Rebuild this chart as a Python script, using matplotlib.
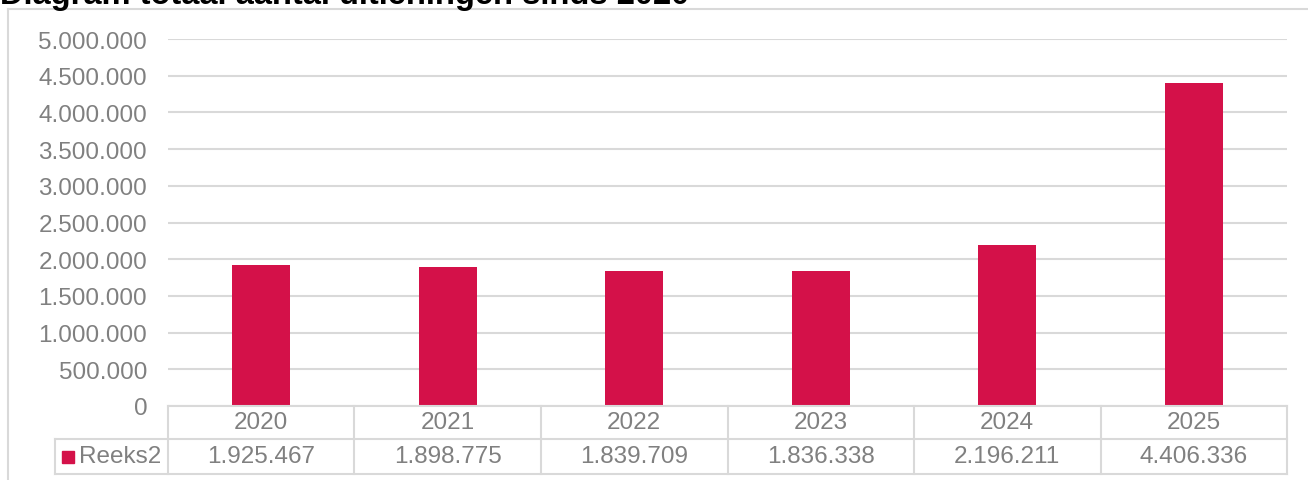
import matplotlib.pyplot as plt
from matplotlib.ticker import FuncFormatter
import matplotlib.transforms as mtransforms

plt.rcParams['font.family'] = ['Liberation Sans', 'DejaVu Sans']

# uitleningen per jaar
jaren = ["2020", "2021", "2022", "2023", "2024", "2025"]
uitleningen = [1925467, 1898775, 1839709, 1836338, 2196211, 4406336]
reeks_naam = "Reeks2"
titel = "Diagram totaal aantal uitleningen sinds 2020"

BALK = "#D41149"
GRIJS_TEKST = "#808080"
GRIJS_LIJN = "#D9D9D9"
FS = 17.5


def punt_format(v, pos=None):
    return f"{int(round(v)):,}".replace(",", ".")


W, H = 1308, 481
fig = plt.figure(figsize=(W / 100, H / 100), dpi=100)

# plotgebied in pixels
x0, x1 = 168, 1287
y_top, y_bot = 40, 407
ax = fig.add_axes([x0 / W, 1 - y_bot / H, (x1 - x0) / W, (y_bot - y_top) / H])

pos = list(range(len(jaren)))
ax.bar(pos, uitleningen, width=0.31, color=BALK, zorder=3)
ax.set_xlim(-0.5, len(jaren) - 0.5)
ax.set_ylim(0, 5000000)
ax.set_yticks(range(0, 5000001, 500000))
ax.yaxis.set_major_formatter(FuncFormatter(punt_format))
ax.tick_params(axis="y", length=0, pad=15, labelsize=FS, labelcolor=GRIJS_TEKST)
ax.set_xticks([])
ax.grid(axis="y", color=GRIJS_LIJN, linewidth=1.5, zorder=0)
for s in ax.spines.values():
    s.set_visible(False)


# y in pixels van boven omzetten naar figuurcoördinaten
def fy(p):
    return (H - p) / H


# gegevenstabel onder de as
rij1, rij2, rij3 = 407, 440, 475
trans = mtransforms.blended_transform_factory(ax.transData, fig.transFigure)
lijn = dict(color=GRIJS_LIJN, linewidth=1.5, transform=fig.transFigure, clip_on=False)

for yy in (rij1, rij2, rij3):
    x_start = x0 if yy == rij1 else 55
    fig.add_artist(plt.Line2D([x_start / W, x1 / W], [fy(yy), fy(yy)], **lijn))
for i in range(len(jaren) + 1):
    xr = x0 + i * (x1 - x0) / len(jaren)
    fig.add_artist(plt.Line2D([xr / W, xr / W], [fy(rij1), fy(rij3)], **lijn))
fig.add_artist(plt.Line2D([55 / W, 55 / W], [fy(rij2), fy(rij3)], **lijn))

for i, (jaar, waarde) in enumerate(zip(jaren, uitleningen)):
    ax.text(i, fy((rij1 + rij2) / 2), jaar, transform=trans, ha="center", va="center",
            fontsize=FS, color=GRIJS_TEKST)
    ax.text(i, fy((rij2 + rij3) / 2), punt_format(waarde), transform=trans, ha="center",
            va="center", fontsize=FS, color=GRIJS_TEKST)

# legendasleutel in de tabel
fig.add_artist(plt.Rectangle((62 / W, fy(464)), 12 / W, 12 / H, color=BALK,
                             transform=fig.transFigure))
fig.text(79 / W, fy((rij2 + rij3) / 2), reeks_naam, ha="left", va="center",
         fontsize=FS, color=GRIJS_TEKST)

# kader van het grafiekgebied
kader = dict(color=GRIJS_LIJN, linewidth=1.5, transform=fig.transFigure, clip_on=False)
fig.add_artist(plt.Line2D([8 / W, 8 / W], [fy(10), 0], **kader))
fig.add_artist(plt.Line2D([8 / W, 1], [fy(10), fy(10)], **kader))

# titel valt deels boven de rand
fig.text(0, fy(4), titel, ha="left", va="baseline", fontsize=23.5, fontweight="bold",
         color="black")

fig.savefig("out.png", dpi=100)
